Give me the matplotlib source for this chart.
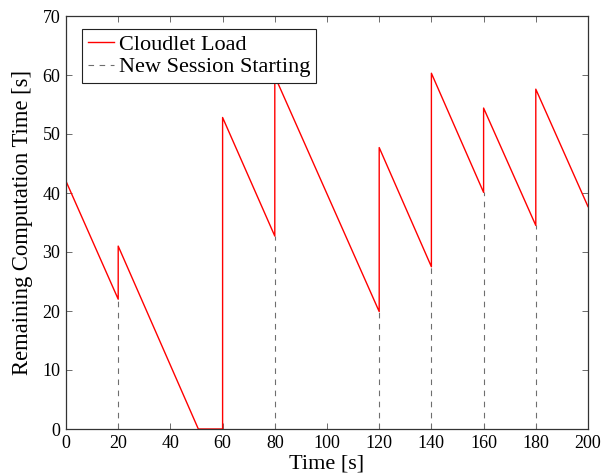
import matplotlib
matplotlib.use("Agg")
import matplotlib.pyplot as plt
from matplotlib.lines import Line2D

# Cloudlet load: (time, value) pairs, vertical jumps at session starts
load_t = [0, 0, 20, 20, 50.7, 60, 60, 80, 80, 120, 120, 140, 140, 160, 160, 180, 180, 200]
load_v = [0, 42.0, 22.0, 31.0, 0, 0, 52.8, 32.7, 59.8, 19.9, 47.7, 27.5, 60.3, 40.1, 54.4, 34.5, 57.6, 37.7]

# New sessions: start times and load just before start (top of dashed line)
session_t = [20, 80, 120, 140, 160, 180]
session_v = [22.0, 32.7, 19.9, 27.5, 40.1, 34.5]

xticks = [0, 20, 40, 60, 80, 100, 120, 140, 160, 180, 200]
yticks = [0, 10, 20, 30, 40, 50, 60, 70]

plt.rcParams['font.family'] = ['Liberation Serif', 'DejaVu Serif']

fig = plt.figure(figsize=(6.03, 4.76), dpi=100)
ax = fig.add_axes([66/603, 1-429/476, (588-66)/603, (429-16)/476])

DASH = (5, 5)
GRAY = '#6e6e6e'
for t, v in zip(session_t, session_v):
    ax.plot([t, t], [0, v], color=GRAY, lw=0.8, dashes=DASH)
ax.plot(load_t, load_v, color='red', lw=1.0)

ax.set_xlim(0, 200)
ax.set_ylim(0, 70)
ax.set_xticks(xticks)
ax.set_yticks(yticks)
ax.tick_params(direction='in', top=True, right=True, labelsize=13, length=4,
               width=0.6, color='#555555', pad=4)
for s in ax.spines.values():
    s.set_linewidth(0.9)
    s.set_color('#333333')
ax.set_xlabel('Time [s]', fontsize=16, labelpad=2)
ax.set_ylabel('Remaining Computation Time [s]', fontsize=16.3, labelpad=7)

handles = [Line2D([], [], color='red', lw=1.0),
           Line2D([], [], color=GRAY, lw=0.8, dashes=DASH)]
leg = ax.legend(handles, ['Cloudlet Load', 'New Session Starting'],
                loc='upper left', bbox_to_anchor=(16/522, 400/413), fontsize=16,
                frameon=True, fancybox=False, framealpha=1, edgecolor='#222222',
                borderpad=0.25, handlelength=1.2, handletextpad=0.2,
                labelspacing=0.08, borderaxespad=0)
leg.get_frame().set_linewidth(0.8)
leg.set_zorder(5)

fig.savefig('out.png', dpi=100)
